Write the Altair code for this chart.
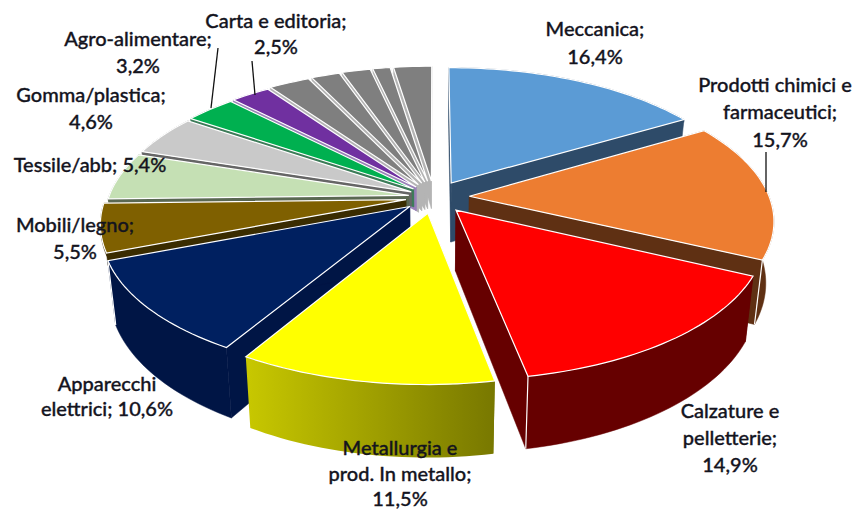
import math
import altair as alt

# ---- data ---------------------------------------------------------------
sectors = ["Meccanica", "Prodotti chimici e farmaceutici", "Calzature e pelletterie",
           "Metallurgia e prod. In metallo", "Apparecchi elettrici", "Mobili/legno",
           "Tessile/abb", "Gomma/plastica", "Agro-alimentare", "Carta e editoria",
           "Altro 1", "Altro 2", "Altro 3", "Altro 4", "Altro 5"]
values = [16.4, 15.7, 14.9, 11.5, 10.6, 5.5, 5.4, 4.6, 3.2, 2.5, 2.6, 1.8, 1.8, 1.1, 2.4]
top_colors = ["#5B9BD5", "#ED7D31", "#FF0000", "#FFFF00", "#002060", "#7F6000",
              "#C5E0B4", "#C9C9C9", "#00B050", "#7030A0",
              "#7F7F7F", "#7F7F7F", "#7F7F7F", "#7F7F7F", "#7F7F7F"]
wall_colors = ["#2E4B69", "#5F3013", "#660000", "#8F8F00", "#001545", "#3A2C00",
               "#5A6852", "#666666", "#3C7C58", "#9A80B8",
               "#B4B4B4", "#B4B4B4", "#B4B4B4", "#B4B4B4", "#B4B4B4"]
outer_wall = [False, True, True, True, True, False, False, False, False, False,
              False, False, False, False, False]
explode = [0.118, 0.118, 0.118, 0.118, 0.105, 0.095, 0.085, 0.085, 0.09, 0.095,
           0.105, 0.11, 0.115, 0.118, 0.118]
depth = [60, 60, 60, 60, 60, 12, 12, 14, 18, 24, 28, 28, 28, 28, 28]

label_lines = ["Meccanica;", "16,4%", "Prodotti  chimici e", "farmaceutici;", "15,7%",
               "Calzature e", "pelletterie;", "14,9%", "Metallurgia e", "prod.  In metallo;",
               "11,5%", "Apparecchi", "elettrici; 10,6%", "Mobili/legno;", "5,5%",
               "Tessile/abb; 5,4%", "Gomma/plastica;", "4,6%", "Agro-alimentare;", "3,2%",
               "Carta e editoria;", "2,5%"]
label_x = [587, 587, 767, 772, 772, 722, 722, 722, 392, 392, 392, 99, 99, 67, 67, 82, 83, 83, 130, 130, 268, 268]
label_y = [22, 50, 78, 105, 133, 404, 431, 458, 441, 467, 492, 377, 402, 218, 245, 158, 88, 115, 32, 59, 14, 40]
leader_x = [210, 244, 758]
leader_y = [40, 53, 144]
leader_x2 = [203, 247, 758]
leader_y2 = [100, 87, 184]

# ---- projection of the tilted, exploded pie ------------------------------
CX, CY = 426, 189      # page pos minus the 8px margin
RX, RY = 300, 138
PERSP = 0.16
TAPER = 0.0004


def project(X, Y, z=0.0):
    s = 1 / (1 - PERSP * Y)
    return [CX + RX * X * s * (1 - TAPER * z), CY + RY * Y * s + z * s]


total = sum(values)
slices = []
cum = 0.0
for i, v in enumerate(values):
    a0 = cum / total * 2 * math.pi
    cum += v
    a1 = cum / total * 2 * math.pi
    slices.append((i, a0, a1, (a0 + a1) / 2))


def feature(coords, fill, stroke, width=1.0, kind="Polygon", sector=""):
    geom = [coords + [coords[0]]] if kind == "Polygon" else coords
    return {"type": "Feature", "geometry": {"type": kind, "coordinates": geom},
            "properties": {"fill": fill, "stroke": stroke, "sw": width, "sector": sector}}


def slice_parts(i, a0, a1, mid):
    e, d = explode[i], depth[i]
    ex, ey = e * math.sin(mid), -e * math.cos(mid)
    n = max(4, int((a1 - a0) * 40))
    rim = [(ex + math.sin(a0 + (a1 - a0) * t / n), ey - math.cos(a0 + (a1 - a0) * t / n))
           for t in range(n + 1)]
    apex = (ex, ey)
    name, top, wall = sectors[i], top_colors[i], wall_colors[i]
    top_poly = [project(*apex)] + [project(*p) for p in rim]
    walls, corners = [], []
    for p in (rim[0], rim[-1]):
        walls.append([project(*apex), project(*p), project(*p, d), project(*apex, d)])
    outer = None
    if outer_wall[i]:
        outer = [project(*p) for p in rim] + [project(*p, d) for p in reversed(rim)]
        corners = [[project(*rim[-1]), project(*rim[-1], d)]]
    elif i < 10:
        outer = [project(*p) for p in rim] + [project(*p, 3) for p in reversed(rim)]
    return name, top, wall, top_poly, walls, outer, corners


order = sorted(slices, key=lambda s: -math.cos(s[3]) if s[0] != 3 else 9)

base_features, yellow_walls, yellow_top = [], [], []
for i, a0, a1, mid in order:
    name, top, wall, top_poly, walls, outer, corners = slice_parts(i, a0, a1, mid)
    if i == 3:
        yellow_walls.append(feature(walls[0], wall, wall, 0.5, sector=name))
        yellow_walls.append(feature(outer, wall, wall, 0.5, sector=name))
        yellow_top.append(feature(top_poly, top, "#FFFFFF", 1.2, sector=name))
        continue
    for w in walls:
        base_features.append(feature(w, wall, wall, 0.5, sector=name))
    if outer:
        base_features.append(feature(outer, wall, wall, 0.5, sector=name))
    for c in corners:
        base_features.append(feature(c, "transparent", "#FFFFFF", 1.2, "LineString", name))
    base_features.append(feature(top_poly, top, "#FFFFFF", 1.2, sector=name))

proj = alt.Projection(type="identity", scale=1, translate=[0, 0])

base = alt.Chart(alt.Data(values=base_features)).mark_geoshape().encode(
    fill=alt.Fill("properties.fill:N", scale=None),
    stroke=alt.Stroke("properties.stroke:N", scale=None),
    strokeWidth=alt.StrokeWidth("properties.sw:Q", scale=None),
).project(**proj.to_dict())

gradient = alt.Gradient(gradient="linear", x1=0, x2=1, y1=0, y2=0,
                        stops=[alt.GradientStop(color="#C8C800", offset=0),
                               alt.GradientStop(color="#787800", offset=1)])
ywall = alt.Chart(alt.Data(values=yellow_walls)).mark_geoshape(
    fill=gradient, stroke=None, strokeWidth=0).project(**proj.to_dict())
ytop = alt.Chart(alt.Data(values=yellow_top)).mark_geoshape(
    fill="#FFFF00", stroke="#FFFFFF", strokeWidth=1.2).project(**proj.to_dict())

lead_rows = [{"x": a, "y": b, "x2": c, "y2": d}
             for a, b, c, d in zip(leader_x, leader_y, leader_x2, leader_y2)]
leaders = alt.Chart(alt.Data(values=lead_rows)).mark_rule(color="#111111", strokeWidth=1.3).encode(
    x=alt.X("x:Q", scale=None, axis=None), y=alt.Y("y:Q", scale=None, axis=None),
    x2="x2:Q", y2="y2:Q")

text_rows = [{"t": t, "x": x, "y": y} for t, x, y in zip(label_lines, label_x, label_y)]
labels = alt.Chart(alt.Data(values=text_rows)).mark_text(
    font="Lato", fontSize=20, fontWeight=500, color="#14141E", stroke="#14141E", strokeWidth=0.35,
    align="center", baseline="middle"
).encode(x=alt.X("x:Q", scale=None, axis=None), y=alt.Y("y:Q", scale=None, axis=None), text="t:N")

chart = alt.layer(base, ywall, ytop, leaders, labels).properties(
    width=844, height=501, padding=0, background="white",
    autosize=alt.AutoSizeParams(type="none", contains="padding"),
).configure_view(stroke=None)

chart.save("out.html", embed_options={"renderer": "svg", "actions": False})
